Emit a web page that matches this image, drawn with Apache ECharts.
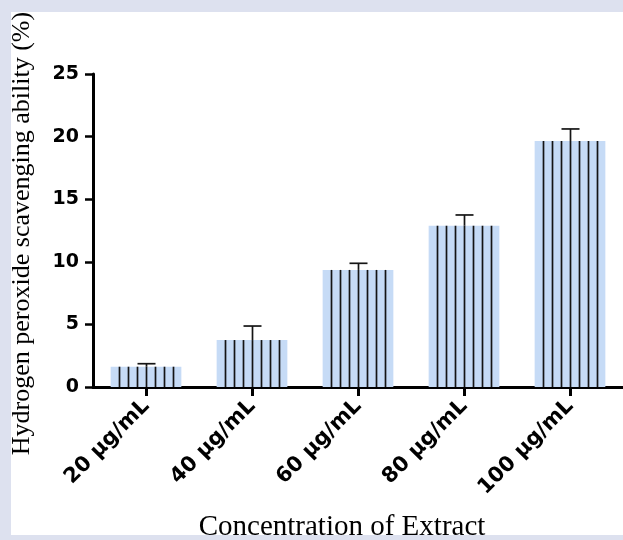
<!DOCTYPE html>
<html>
<head>
<meta charset="utf-8">
<script src="https://cdn.jsdelivr.net/npm/echarts@6/dist/echarts.min.js"></script>
<style>
  html, body { margin: 0; padding: 0; background: #ffffff; }
  #chart { width: 623px; height: 540px; }
</style>
</head>
<body>
<div id="chart"></div>
<script>
// Hydrogen peroxide scavenging by extract concentration (mean ± SD)
const categories = ['20 µg/mL', '40 µg/mL', '60 µg/mL', '80 µg/mL', '100 µg/mL'];
const scavenging = [1.62, 3.75, 9.35, 12.88, 19.65];
const sdUpper = [0.24, 1.12, 0.53, 0.86, 0.96];
const yTicks = [0, 5, 10, 15, 20, 25];

const FRAME = '#dde1ef';
const BAR_FILL = '#c6dbf6';
const INK = '#000000';
const BAR_RATIO = 0.667;

const chart = echarts.init(document.getElementById('chart'), null, { renderer: 'canvas' });

// vertical stripes inside each bar plus the upper error whisker
function renderOverlay(params, api) {
  const i = api.value(0);
  const v = api.value(1);
  const e = api.value(2);
  const band = api.size([1, 0])[0];
  const w = band * BAR_RATIO;
  const base = api.coord([i, 0]);
  const top = api.coord([i, v]);
  const errTop = api.coord([i, v + e]);
  const step = w / 8;
  const children = [];
  for (let k = -3; k <= 3; k++) {
    const x = Math.round(top[0] + k * step) + 0.5;
    children.push({
      type: 'line',
      shape: { x1: x, y1: base[1], x2: x, y2: top[1] },
      style: { stroke: '#151515', lineWidth: 1.7 }
    });
  }
  const cx = Math.round(top[0]) + 0.5;
  children.push({
    type: 'line',
    shape: { x1: cx, y1: top[1], x2: cx, y2: errTop[1] },
    style: { stroke: '#151515', lineWidth: 1.7 }
  });
  children.push({
    type: 'line',
    shape: { x1: cx - 9, y1: errTop[1], x2: cx + 9, y2: errTop[1] },
    style: { stroke: '#151515', lineWidth: 1.7 }
  });
  return { type: 'group', children };
}

chart.setOption({
  animation: false,
  backgroundColor: '#ffffff',
  grid: {
    left: 93, right: 0, top: 74, bottom: 153,
    containLabel: false,
    outerBoundsMode: 'none'
  },
  xAxis: {
    type: 'category',
    data: categories,
    name: 'Concentration of Extract',
    nameLocation: 'middle',
    nameGap: 126,
    nameTextStyle: {
      fontFamily: 'Liberation Serif', fontSize: 29, color: INK,
      padding: [0, 32, 0, 0]
    },
    axisLine: { show: true, lineStyle: { color: INK, width: 3 } },
    axisTick: { show: true, alignWithLabel: true, length: 9, lineStyle: { color: INK, width: 3 } },
    axisLabel: {
      rotate: 45, margin: 16, color: INK,
      fontFamily: 'DejaVu Sans', fontWeight: 'bold', fontSize: 21
    },
    splitLine: { show: false }
  },
  yAxis: {
    type: 'value',
    min: 0, max: 25, interval: 5,
    name: 'Hydrogen peroxide scavenging ability (%)',
    nameLocation: 'middle',
    nameGap: 58,
    nameRotate: 90,
    nameTextStyle: {
      fontFamily: 'Liberation Serif', fontSize: 26, color: INK,
      padding: [0, 6, 0, 0]
    },
    axisLine: { show: true, lineStyle: { color: INK, width: 3 } },
    axisTick: { show: true, length: 8, lineStyle: { color: INK, width: 2.5 } },
    axisLabel: {
      margin: 14, color: INK,
      fontFamily: 'DejaVu Sans', fontWeight: 'bold', fontSize: 19,
      formatter: function (val) { return yTicks.indexOf(val) >= 0 ? String(val) : ''; }
    },
    splitLine: { show: false }
  },
  series: [
    {
      type: 'bar',
      data: scavenging,
      barWidth: (BAR_RATIO * 100) + '%',
      itemStyle: { color: BAR_FILL },
      z: 1
    },
    {
      type: 'custom',
      renderItem: renderOverlay,
      data: scavenging.map((v, i) => [i, v, sdUpper[i]]),
      encode: { x: 0, y: 1 },
      z: 3
    }
  ],
  graphic: [
    { type: 'rect', left: 0, top: 0, shape: { width: 623, height: 12 }, style: { fill: FRAME }, z: 100 },
    { type: 'rect', left: 0, top: 0, shape: { width: 11, height: 540 }, style: { fill: FRAME }, z: 100 },
    { type: 'rect', left: 0, top: 535, shape: { width: 623, height: 5 }, style: { fill: FRAME }, z: 100 }
  ]
});
</script>
</body>
</html>
